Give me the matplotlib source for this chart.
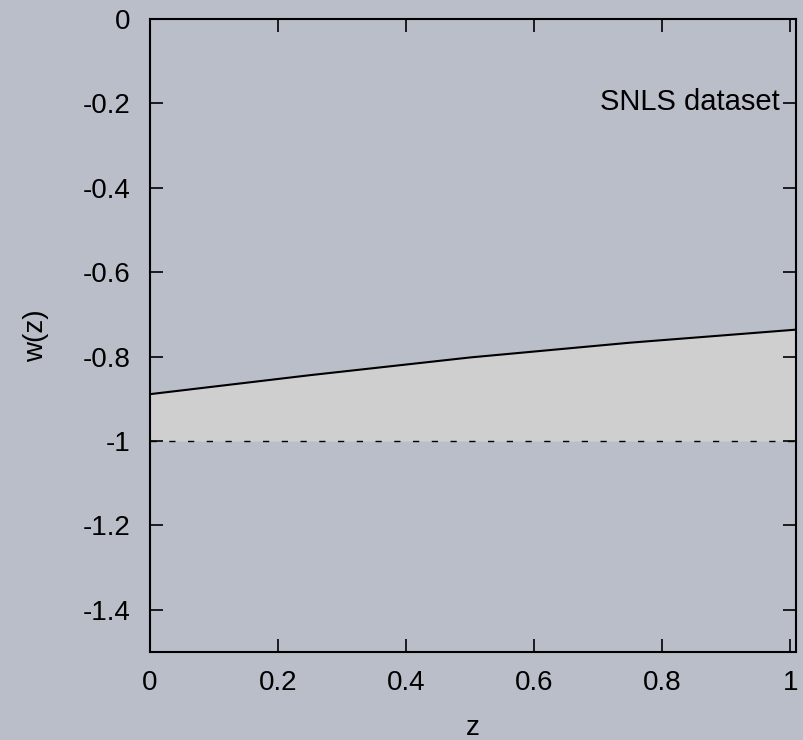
import numpy as np
import matplotlib
matplotlib.use('Agg')
import matplotlib.pyplot as plt

# w(z)
z = [0.0, 0.25, 0.5, 0.75, 1.01]
w = [-0.889, -0.844, -0.802, -0.767, -0.736]
w_ref = -1.0
xticks = [0, 0.2, 0.4, 0.6, 0.8, 1]
xlabels = ['0', '0.2', '0.4', '0.6', '0.8', '1']
yticks = [0, -0.2, -0.4, -0.6, -0.8, -1, -1.2, -1.4]
ylabels = ['0', '-0.2', '-0.4', '-0.6', '-0.8', '-1', '-1.2', '-1.4']
key_text = 'SNLS dataset'

bg = '#babec8'
fs = 20
plt.rcParams['font.family'] = ['Liberation Sans', 'DejaVu Sans']

fig = plt.figure(figsize=(8.04, 7.40), dpi=100, facecolor=bg)
ax = fig.add_axes([150/804, (740-652)/740, (796-150)/804, (652-19)/740])
ax.set_facecolor(bg)

ax.fill_between(z, w, w_ref, color='#cfcfcf', linewidth=0, zorder=1)
ax.plot(z, w, color='black', lw=1.5, zorder=3)
ax.axhline(w_ref, color='black', lw=1.0, dashes=(4.5, 9), zorder=2)

ax.set_xlim(0, 1.009)
ax.set_ylim(-1.5, 0)
ax.set_xticks(xticks)
ax.set_xticklabels(xlabels)
ax.set_yticks(yticks)
ax.set_yticklabels(ylabels)
ax.tick_params(axis='x', pad=13)
ax.tick_params(axis='y', pad=14)
ax.tick_params(direction='in', length=9.4, width=1.2, top=True, right=True,
               labelsize=fs, colors='black')
for s in ax.spines.values():
    s.set_linewidth(1.5)

ax.set_xlabel('z', fontsize=fs, va='baseline')
ax.xaxis.set_label_coords(0.5, (652 - 735) / 633)
ax.set_ylabel('w(z)', fontsize=fs, labelpad=24)

ax.text(0.984, -0.197, key_text, ha='right', va='center', fontsize=fs + 1)

fig.savefig('out.png', dpi=100, facecolor=bg)
